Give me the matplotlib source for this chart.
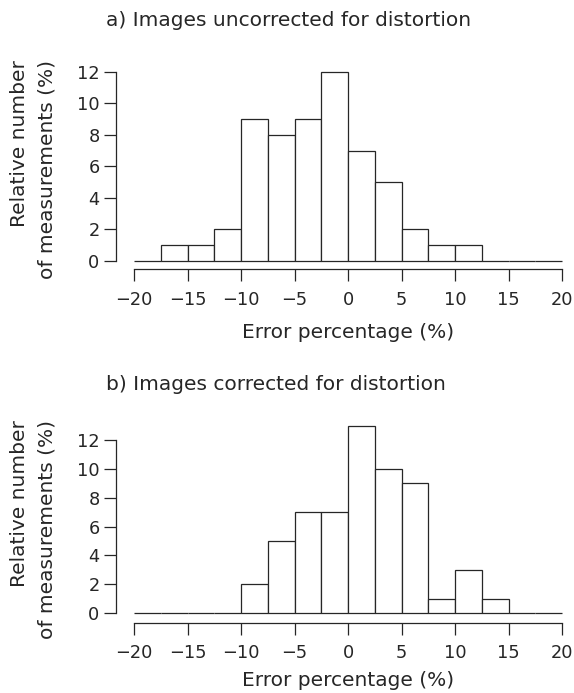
"""
Two R-style histograms of the error percentage, before and after distortion correction.
Saves out.png (574x693 px).
"""
import matplotlib
matplotlib.use("Agg")
import matplotlib.pyplot as plt

# Bin left edges (width 2.5 %) and relative counts
bin_left = [-20, -17.5, -15, -12.5, -10, -7.5, -5, -2.5,
            0, 2.5, 5, 7.5, 10, 12.5, 15, 17.5]
bin_width = 2.5
uncorrected = [0, 1, 1, 2, 9, 8, 9, 12, 7, 5, 2, 1, 1, 0, 0, 0]
corrected = [0, 0, 0, 0, 2, 5, 7, 7, 13, 10, 9, 1, 3, 1, 0, 0]

x_ticks = [-20, -15, -10, -5, 0, 5, 10, 15, 20]
y_ticks = [0, 2, 4, 6, 8, 10, 12]

titles = ["a) Images uncorrected for distortion",
          "b) Images corrected for distortion"]
xlabel = "Error percentage (%)"
ylabel_lines = ["Relative number", "of measurements (%)"]

INK = "#262626"
W, H = 574, 693
LABEL_FS = 14.5
TICK_FS = 12.8
plt.rcParams["font.family"] = ["DejaVu Sans"]
plt.rcParams["text.color"] = INK

fig = plt.figure(figsize=(W / 100, H / 100), dpi=100)


def px_axes(x0, y0, x1, y1):
    # axes rectangle given in pixel coordinates (origin top-left)
    return fig.add_axes([x0 / W, 1 - y1 / H, (x1 - x0) / W, (y1 - y0) / H])


def fig_text(x, y, s, **kw):
    fig.text(x / W, 1 - y / H, s, fontsize=LABEL_FS, color=INK, **kw)


PX_PER_X = (562 - 134) / 40.0   # px per % on the x axis
# panel geometry: axes box in px, ylim, title y, ylabel top y, xlabel y
panels = [
    dict(data=uncorrected, box=(116, 62, 572, 269), ylim=(-0.507, 12.61),
         title_y=20, ylab_top=60, xlab_y=332, xpad=7.5),
    dict(data=corrected, box=(116, 418, 572, 623), ylim=(-0.69, 13.53),
         title_y=385, ylab_top=420, xlab_y=680, xpad=6.5),
]

for i, p in enumerate(panels):
    x0, y0, x1, y1 = p["box"]
    ax = px_axes(x0, y0, x1, y1)
    ax.bar(bin_left, p["data"], width=bin_width, align="edge",
           facecolor="white", edgecolor=INK, linewidth=0.9)
    ax.set_xlim(-20 - (134 - x0) / PX_PER_X, 20 + (x1 - 562) / PX_PER_X)
    ax.set_ylim(*p["ylim"])
    ax.set_xticks(x_ticks)
    ax.set_yticks(y_ticks)
    ax.set_yticklabels([str(v) for v in y_ticks])
    for side in ("top", "right"):
        ax.spines[side].set_visible(False)
    ax.spines["left"].set_bounds(0, 12)
    ax.spines["bottom"].set_bounds(-20, 20)
    for side in ("left", "bottom"):
        ax.spines[side].set_color(INK)
        ax.spines[side].set_linewidth(0.9)
    ax.tick_params(length=8.3, width=0.9, color=INK, labelcolor=INK,
                   labelsize=TICK_FS)
    ax.tick_params(axis="x", pad=p["xpad"])
    ax.tick_params(axis="y", pad=3.5)
    ax.patch.set_visible(False)

    fig_text(106, p["title_y"], titles[i], ha="left", va="center")
    fig_text(20, p["ylab_top"], ylabel_lines[0], rotation=90,
             ha="center", va="top")
    fig_text(47, p["ylab_top"], ylabel_lines[1], rotation=90,
             ha="center", va="top")
    fig_text(348, p["xlab_y"], xlabel, ha="center", va="center")

fig.savefig("out.png", dpi=100)
plt.close(fig)
